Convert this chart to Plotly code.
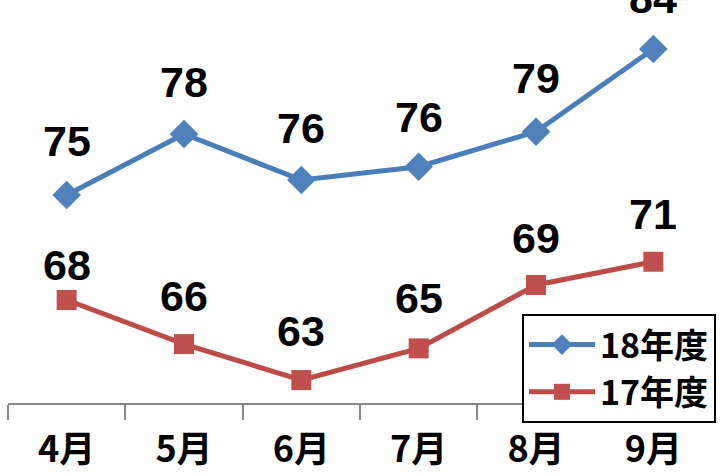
import plotly.graph_objects as go

months = ["4月", "5月", "6月", "7月", "8月", "9月"]
fy18_values = [74.66, 78.36, 75.57, 76.38, 78.50, 83.51]
fy17_values = [68.30, 65.63, 63.45, 65.37, 69.21, 70.62]
fy18_labels = ["75", "78", "76", "76", "79", "84"]
fy17_labels = ["68", "66", "63", "65", "69", "71"]
series_names = ["18年度", "17年度"]

# label offsets (pixels above each point)
fy18_offsets = [54, 52, 52, 50, 54, 51]
fy17_offsets = [35, 48, 49, 50, 47, 48]

BLUE_LINE, BLUE_MARK = "#4A7EBB", "#4F81BD"
RED_LINE, RED_MARK = "#BE4B48", "#C0504D"
LABEL_FONT = dict(family="Liberation Sans, Arial, sans-serif", size=43, color="black", weight="bold")
CJK = "Noto Sans CJK JP, sans-serif"

fig = go.Figure()
fig.add_trace(go.Scatter(
    x=months, y=fy18_values, name=series_names[0], mode="lines+markers",
    line=dict(color=BLUE_LINE, width=5),
    marker=dict(symbol="diamond", size=22, color=BLUE_MARK),
))
fig.add_trace(go.Scatter(
    x=months, y=fy17_values, name=series_names[1], mode="lines+markers",
    line=dict(color=RED_LINE, width=5),
    marker=dict(symbol="square", size=20, color=RED_MARK),
))

annotations = []
for vals, labels, offs in [(fy18_values, fy18_labels, fy18_offsets),
                           (fy17_values, fy17_labels, fy17_offsets)]:
    for m, v, t, o in zip(months, vals, labels, offs):
        annotations.append(dict(
            x=m, y=v, text=t, showarrow=False, xref="x", yref="y",
            yanchor="middle", xanchor="center", yshift=o, font=LABEL_FONT,
        ))

fig.update_layout(
    width=725, height=476,
    margin=dict(l=8, r=13, t=0, b=73, autoexpand=False),
    paper_bgcolor="white", plot_bgcolor="white",
    showlegend=True,
    legend=dict(
        x=(522 - 8) / 704, y=1 - 314 / 403, xanchor="left", yanchor="top",
        bordercolor="black", borderwidth=2, bgcolor="white",
        font=dict(family=CJK, size=34, color="black", weight="bold"),
        tracegroupgap=0, itemwidth=66,
    ),
    xaxis=dict(
        type="category", range=[-0.5, 5.5], tickson="boundaries",
        ticks="outside", ticklen=15, tickwidth=2, tickcolor="#888888",
        showline=True, linecolor="#888888", linewidth=2, showgrid=False,
        zeroline=False, ticklabelstandoff=14, automargin=False,
        tickfont=dict(family=CJK, size=36, color="black", weight="bold"),
    ),
    yaxis=dict(range=[62.06, 86.48], visible=False, showgrid=False, automargin=False),
    annotations=annotations,
)

fig.write_html("out.html")
